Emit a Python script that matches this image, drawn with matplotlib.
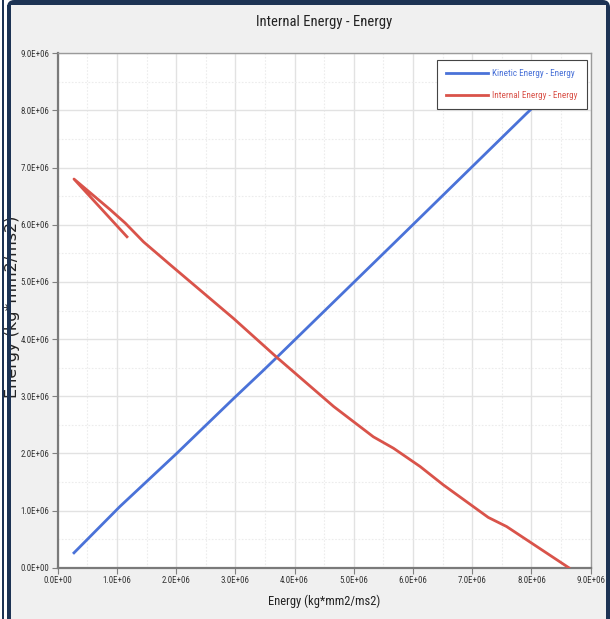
import matplotlib
matplotlib.use("Agg")
import matplotlib.pyplot as plt
from matplotlib import font_manager
from matplotlib.patches import FancyBboxPatch, Rectangle
from matplotlib.ticker import MultipleLocator, FuncFormatter

# Energy curves (values in kg*mm2/ms2)
kinetic_x = [0.275e6, 1.05e6, 2.01e6, 2.97e6, 3.45e6, 3.70e6, 5.73e6, 7.92e6, 8.65e6]
kinetic_y = [0.26e6, 1.07e6, 2.00e6, 2.96e6, 3.43e6, 3.68e6, 5.73e6, 7.95e6, 8.66e6]

internal_x = [1.17e6, 0.275e6, 0.88e6, 1.14e6, 1.45e6, 1.90e6, 2.97e6,
              3.70e6, 4.66e6, 5.33e6, 5.67e6, 6.12e6, 6.51e6, 7.27e6, 7.58e6, 8.63e6]
internal_y = [5.79e6, 6.80e6, 6.27e6, 6.03e6, 5.70e6, 5.30e6, 4.36e6,
              3.68e6, 2.82e6, 2.29e6, 2.09e6, 1.77e6, 1.45e6, 0.88e6, 0.72e6, 0.0]

series_labels = ["Kinetic Energy - Energy", "Internal Energy - Energy"]
series_colors = ["#4a72d8", "#d9534a"]

# pick a narrow sans if one is installed
names = {f.name for f in font_manager.fontManager.ttflist}
narrow = "DejaVu Sans"
for cand in ["Roboto Condensed", "Liberation Sans Narrow", "DejaVu Sans Condensed", "Open Sans Condensed"]:
    if cand in names:
        narrow = cand
        break

fig = plt.figure(figsize=(6.10, 6.19), dpi=100)
fig.patch.set_facecolor("white")
navy = "#1d3354"

# dark frame with the light panel inside
fig.add_artist(Rectangle((2 / 610, 0), 1.5 / 610, 1, transform=fig.transFigure,
                         facecolor=navy, edgecolor="none", zorder=-10))
fig.add_artist(FancyBboxPatch((7 / 610, -0.05), 603 / 610, 1.05, transform=fig.transFigure,
                              boxstyle="round,pad=0,rounding_size=0.012",
                              facecolor=navy, edgecolor="none", zorder=-10))
fig.add_artist(Rectangle((11 / 610, 0), 595 / 610, 1 - 5 / 619, transform=fig.transFigure,
                         facecolor="#f0f0f0", edgecolor="none", zorder=-9))
# y label partly tucked under the frame
fig.text(12.5 / 610, 1 - 307 / 619, "Energy (kg*mm2/ms2)", rotation=90, ha="center", va="center",
         fontsize=11.5, color="#222222", family="DejaVu Sans", zorder=-8)
fig.add_artist(Rectangle((7 / 610, 0), 3.5 / 610, 1 - 5 / 619, transform=fig.transFigure,
                         facecolor=navy, edgecolor="none", zorder=-7))

ax = fig.add_axes([57.7 / 610, 1 - 567.7 / 619, 533 / 610, 514.4 / 619])
ax.set_facecolor("white")

ax.plot(kinetic_x, kinetic_y, color=series_colors[0], lw=2.0, label=series_labels[0], zorder=3)
ax.plot(internal_x, internal_y, color=series_colors[1], lw=2.0, label=series_labels[1], zorder=3)

ax.set_xlim(0, 9e6)
ax.set_ylim(0, 9e6)
ax.xaxis.set_major_locator(MultipleLocator(1e6))
ax.yaxis.set_major_locator(MultipleLocator(1e6))
ax.xaxis.set_minor_locator(MultipleLocator(0.5e6))
ax.yaxis.set_minor_locator(MultipleLocator(0.5e6))
fmt = FuncFormatter(lambda v, p: "%.1fE+%02d" % (v / 1e6, 6) if v != 0 else "0.0E+00")
ax.xaxis.set_major_formatter(fmt)
ax.yaxis.set_major_formatter(fmt)

ax.grid(which="major", color="#e2e2e2", lw=1.0)
ax.grid(which="minor", color="#ececec", lw=0.8, ls=(0, (1.5, 1.5)))
ax.set_axisbelow(True)
ax.tick_params(which="major", direction="out", length=4, width=0.8, color="#808080",
               labelsize=6.4, labelcolor="#333333", pad=2)
ax.tick_params(which="minor", length=0)
for lab in ax.get_xticklabels() + ax.get_yticklabels():
    lab.set_fontfamily(narrow)
for side in ["top", "right"]:
    ax.spines[side].set_color("#9a9a9a")
    ax.spines[side].set_linewidth(1.0)
for side in ["left", "bottom"]:
    ax.spines[side].set_color("#7a7a7a")
    ax.spines[side].set_linewidth(1.6)

ax.set_title("Internal Energy - Energy", fontsize=10.5, family=narrow, color="#222222", pad=20)
ax.set_xlabel("Energy (kg*mm2/ms2)", fontsize=9, family=narrow, color="#222222", labelpad=7)

leg = ax.legend(loc="upper right", bbox_to_anchor=(1 - 4 / 533, 1 - 7 / 514.4), frameon=True,
                fancybox=False, framealpha=1, edgecolor="#444444", handlelength=4.6,
                borderaxespad=0, prop={"family": narrow, "size": 6.6},
                labelspacing=1.35, borderpad=1.0, handletextpad=0.4)
leg.get_frame().set_linewidth(0.8)
for txt, c in zip(leg.get_texts(), series_colors):
    txt.set_color(c)

fig.savefig("out.png", dpi=100)
